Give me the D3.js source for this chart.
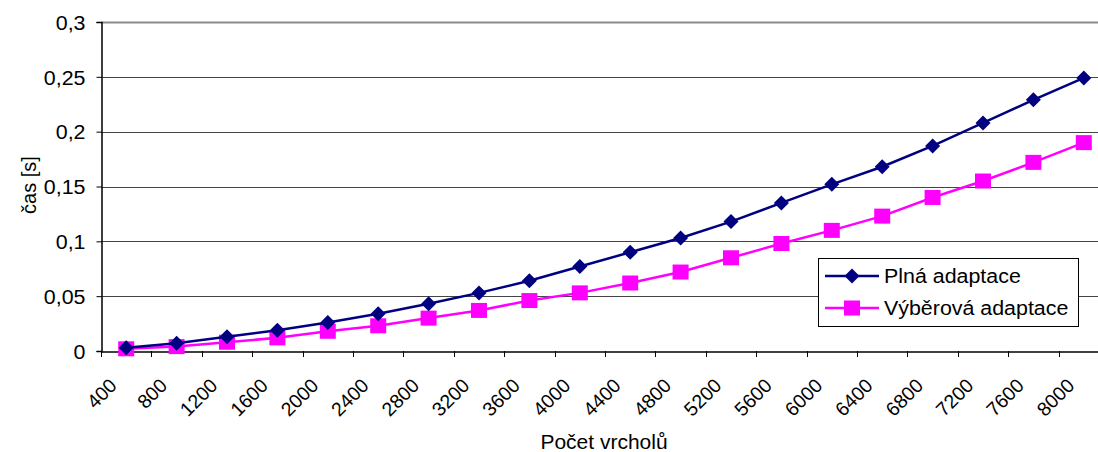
<!DOCTYPE html>
<html>
<head>
<meta charset="utf-8">
<script src="https://cdn.jsdelivr.net/npm/d3@7"></script>
<style>
  html, body { margin: 0; padding: 0; background: #fff; }
  svg { display: block; }
  text { font-family: "Liberation Sans", Arial, sans-serif; fill: #000; }
</style>
</head>
<body>
<svg id="chart" width="1098" height="452"></svg>
<script>
// Počet vrcholů grafu
const categories = [400, 800, 1200, 1600, 2000, 2400, 2800, 3200, 3600, 4000,
                    4400, 4800, 5200, 5600, 6000, 6400, 6800, 7200, 7600, 8000];
// čas [s] — plná adaptace
const plnaAdaptace = [0.003, 0.007, 0.013, 0.019, 0.026, 0.034, 0.043, 0.053, 0.064, 0.077,
                      0.090, 0.103, 0.118, 0.135, 0.152, 0.168, 0.187, 0.208, 0.229, 0.249];
// čas [s] — výběrová adaptace
const vyberovaAdaptace = [0.002, 0.004, 0.008, 0.012, 0.018, 0.023, 0.030, 0.037, 0.046, 0.053,
                          0.062, 0.072, 0.085, 0.098, 0.110, 0.123, 0.140, 0.155, 0.172, 0.190];
const yTicks = [0, 0.05, 0.1, 0.15, 0.2, 0.25, 0.3];
const seriesNames = ["Plná adaptace", "Výběrová adaptace"];

const svg = d3.select("#chart");
const SX = 1.07;          // horizontal text stretch
const FS = 20;            // font size
const FS_CAT = 19.5;      // rotated category labels
const fmt = v => String(v).replace(".", ",");

const x = d3.scaleBand().domain(categories).range([101, 1109]).paddingInner(0).paddingOuter(0);
const y = d3.scaleLinear().domain([0, 0.3]).range([351, 22]);
const cx = c => x(c) + x.bandwidth() / 2;

// horizontal gridlines
svg.append("g").selectAll("line").data(yTicks.filter(t => t > 0)).join("line")
  .attr("x1", 101).attr("x2", 1109)
  .attr("y1", d => Math.round(y(d)) + 0.5).attr("y2", d => Math.round(y(d)) + 0.5)
  .attr("stroke", d => d === 0.3 ? "#8a8a8a" : "#444")
  .attr("stroke-width", d => d === 0.3 ? 2 : 1);

// y axis
const yAxis = svg.append("g").attr("transform", "translate(101.5,0)")
  .call(d3.axisLeft(y).tickValues(yTicks).tickFormat(fmt).tickSize(5).tickPadding(0));
yAxis.select(".domain").attr("stroke", "#000").attr("stroke-width", 1.5);
yAxis.selectAll(".tick line").attr("stroke", "#000");
yAxis.selectAll(".tick text")
  .attr("font-size", FS).attr("font-family", "Liberation Sans, Arial, sans-serif")
  .attr("x", -16 / SX).attr("dy", "0.36em")
  .attr("transform", `scale(${SX},1)`);

// x axis
const xAxis = svg.append("g").attr("transform", "translate(0,351.5)")
  .call(d3.axisBottom(x).tickSize(0).tickFormat(d => d));
xAxis.select(".domain").attr("stroke", "#000").attr("stroke-width", 1.5);
xAxis.selectAll(".tick text").remove();
// tick marks between categories
svg.append("g").selectAll("line")
  .data(d3.range(categories.length + 1))
  .join("line")
  .attr("x1", i => Math.round(101 + i * x.bandwidth()) + 0.5)
  .attr("x2", i => Math.round(101 + i * x.bandwidth()) + 0.5)
  .attr("y1", 351).attr("y2", 357)
  .attr("stroke", "#000");
// rotated category labels
svg.append("g").selectAll("text").data(categories).join("text")
  .attr("font-size", FS_CAT)
  .attr("text-anchor", "end")
  .attr("transform", d => `translate(${cx(d) - 18},${377}) rotate(-45)`)
  .attr("dy", "0.71em")
  .text(d => d);

// axis titles
svg.append("text")
  .attr("font-size", FS)
  .attr("text-anchor", "middle")
  .attr("transform", `translate(604,449) scale(1.05,1)`)
  .text("Počet vrcholů");
svg.append("text")
  .attr("font-size", FS)
  .attr("text-anchor", "middle")
  .attr("transform", `translate(36,185) rotate(-90)`)
  .text("čas [s]");

// series
const line = d3.line().x((d, i) => cx(categories[i])).y(d => y(d));
const diamond = "M0,-7.5L7.5,0L0,7.5L-7.5,0Z";
const square = "M-8,-7.5H8V7.5H-8Z";

function drawSeries(values, color, markPath) {
  const g = svg.append("g");
  g.append("path").datum(values).attr("d", line)
    .attr("fill", "none").attr("stroke", color).attr("stroke-width", 2.5);
  g.selectAll("path.m").data(values).join("path").attr("class", "m")
    .attr("d", markPath)
    .attr("transform", (d, i) => `translate(${cx(categories[i])},${y(d)})`)
    .attr("fill", color);
}
drawSeries(vyberovaAdaptace, "#ff00ff", square);
drawSeries(plnaAdaptace, "#000080", diamond);

// legend
const lg = svg.append("g");
lg.append("rect").attr("x", 818.5).attr("y", 258.5).attr("width", 260).attr("height", 68)
  .attr("fill", "#fff").attr("stroke", "#000").attr("stroke-width", 1);
const legendItems = [
  {name: seriesNames[0], color: "#000080", mark: diamond, yy: 276},
  {name: seriesNames[1], color: "#ff00ff", mark: square, yy: 308}
];
legendItems.forEach(it => {
  lg.append("line").attr("x1", 825).attr("x2", 879).attr("y1", it.yy).attr("y2", it.yy)
    .attr("stroke", it.color).attr("stroke-width", 2.5);
  lg.append("path").attr("d", it.mark).attr("fill", it.color)
    .attr("transform", `translate(852,${it.yy})`);
  lg.append("text").attr("font-size", FS)
    .attr("transform", `translate(884,${it.yy}) scale(${SX},1)`)
    .attr("dy", "0.36em")
    .text(it.name);
});
</script>
</body>
</html>
